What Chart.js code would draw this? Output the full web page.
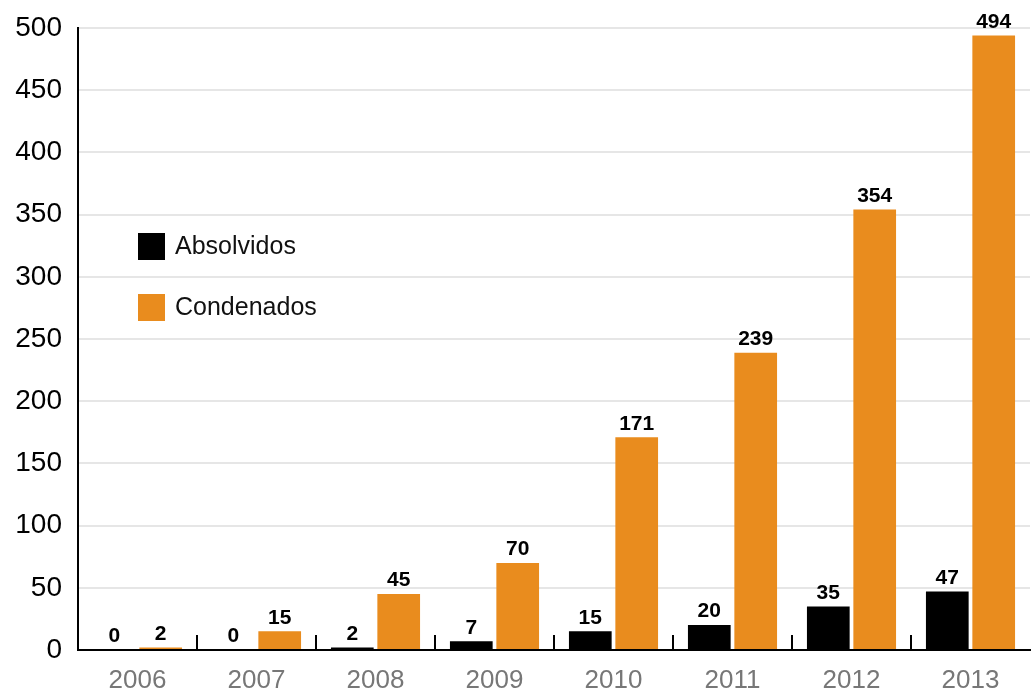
<!DOCTYPE html>
<html>
<head>
<meta charset="utf-8">
<script src="https://cdn.jsdelivr.net/npm/chart.js@4/dist/chart.umd.min.js"></script>
<style>
  html, body { margin: 0; padding: 0; background: #fff; }
  #chart { display: block; }
</style>
</head>
<body>
<canvas id="chart" width="1031" height="694"></canvas>
<script>
const years = ["2006", "2007", "2008", "2009", "2010", "2011", "2012", "2013"];
const absolvidos = [0, 0, 2, 7, 15, 20, 35, 47];
const condenados = [2, 15, 45, 70, 171, 239, 354, 494];
const yTicks = [0, 50, 100, 150, 200, 250, 300, 350, 400, 450, 500];

const FONT = "'Liberation Sans', Arial, sans-serif";
const BLACK = "#000000";
const ORANGE = "#e98c1e";

// numbers printed above each bar
const valueLabels = {
  id: "valueLabels",
  afterDatasetsDraw(chart) {
    const ctx = chart.ctx;
    ctx.save();
    ctx.font = `bold 21px ${FONT}`;
    ctx.fillStyle = "#000";
    ctx.textAlign = "center";
    ctx.textBaseline = "bottom";
    chart.data.datasets.forEach((ds, i) => {
      chart.getDatasetMeta(i).data.forEach((bar, j) => {
        ctx.fillText(String(ds.data[j]), bar.x, bar.y - 3);
      });
    });
    ctx.restore();
  },
};

// short upward ticks between year groups
const groupTicks = {
  id: "groupTicks",
  afterDraw(chart) {
    const x = chart.scales.x;
    const ctx = chart.ctx;
    ctx.save();
    ctx.strokeStyle = "#000";
    ctx.lineWidth = 2;
    for (let i = 1; i < years.length; i++) {
      const px = Math.round((x.getPixelForValue(i - 1) + x.getPixelForValue(i)) / 2);
      ctx.beginPath();
      ctx.moveTo(px, x.top);
      ctx.lineTo(px, x.top - 15);
      ctx.stroke();
    }
    ctx.restore();
  },
};

// legend boxes inside the plot
const boxLegend = {
  id: "boxLegend",
  afterDraw(chart) {
    const ctx = chart.ctx;
    ctx.save();
    ctx.font = `25px ${FONT}`;
    ctx.textBaseline = "middle";
    chart.data.datasets.forEach((ds, i) => {
      const y = 233 + i * 61;
      ctx.fillStyle = ds.backgroundColor;
      ctx.fillRect(138, y, 27, 27);
      ctx.fillStyle = "#111";
      ctx.fillText(ds.label, 175, y + 14);
    });
    ctx.restore();
  },
};

new Chart(document.getElementById("chart"), {
  type: "bar",
  data: {
    labels: years,
    datasets: [
      { label: "Absolvidos", data: absolvidos, backgroundColor: BLACK },
      { label: "Condenados", data: condenados, backgroundColor: ORANGE },
    ],
  },
  options: {
    responsive: false,
    animation: false,
    layout: { padding: { top: 28, right: 1, left: 0, bottom: 0 } },
    datasets: { bar: { categoryPercentage: 0.78, barPercentage: 0.92 } },
    plugins: { legend: { display: false }, tooltip: { enabled: false } },
    scales: {
      x: {
        afterFit: (s) => { s.height = 44; },
        grid: { display: false, drawTicks: false },
        border: { color: "#000", width: 2 },
        ticks: { color: "#777", font: { family: FONT, size: 26 }, padding: 15 },
      },
      y: {
        min: 0,
        max: 500,
        afterFit: (s) => { s.width = 78; s.paddingTop = 0; s.paddingBottom = 0; },
        afterBuildTicks: (s) => { s.ticks = yTicks.map((v) => ({ value: v })); },
        grid: { color: "#e6e6e6", lineWidth: 2, drawTicks: false },
        border: { color: "#000", width: 2 },
        ticks: { color: "#000", font: { family: FONT, size: 28 }, padding: 16 },
      },
    },
  },
  plugins: [valueLabels, groupTicks, boxLegend],
});
</script>
</body>
</html>
